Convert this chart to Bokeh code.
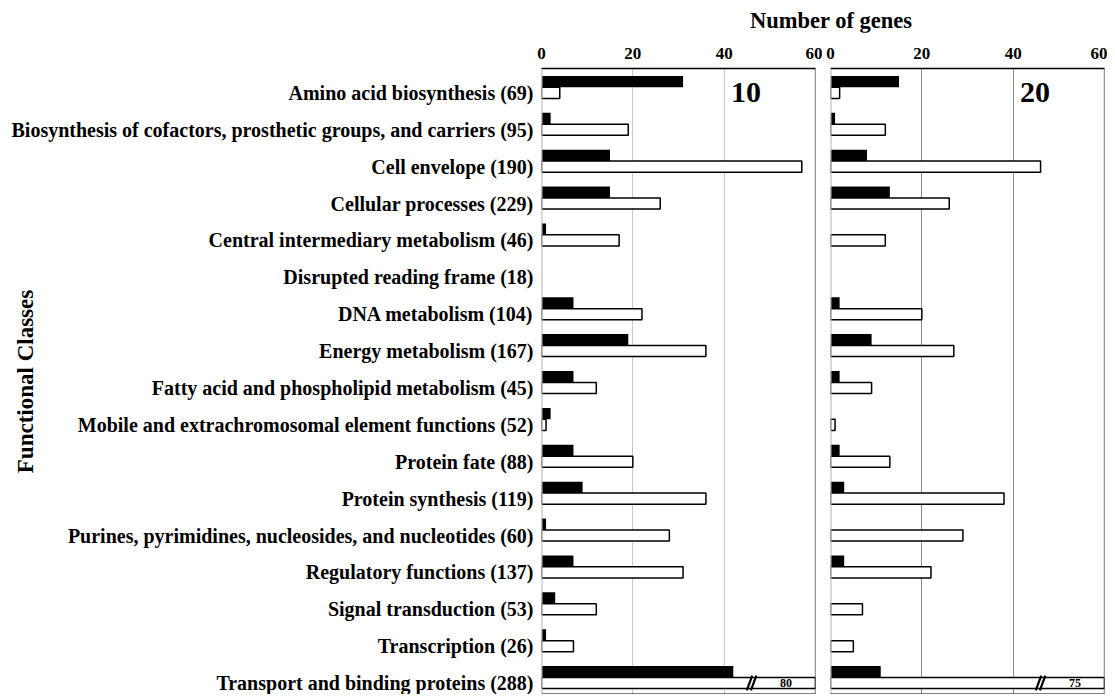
from bokeh.plotting import figure
from bokeh.models import (ColumnDataSource, Range1d, FixedTicker, Span, Label, Div,
                          CDSView, BooleanFilter)
from bokeh.transform import dodge
from bokeh.layouts import row, column
from bokeh.core.properties import value
from bokeh.embed import file_html
from bokeh.resources import INLINE

CLASSES = [
    "Amino acid biosynthesis (69)",
    "Biosynthesis of cofactors, prosthetic groups, and carriers (95)",
    "Cell envelope (190)",
    "Cellular processes (229)",
    "Central intermediary metabolism (46)",
    "Disrupted reading frame (18)",
    "DNA metabolism (104)",
    "Energy metabolism (167)",
    "Fatty acid and phospholipid metabolism (45)",
    "Mobile and extrachromosomal element functions (52)",
    "Protein fate (88)",
    "Protein synthesis (119)",
    "Purines, pyrimidines, nucleosides, and nucleotides (60)",
    "Regulatory functions (137)",
    "Signal transduction (53)",
    "Transcription (26)",
    "Transport and binding proteins (288)",
]
BLACK_10 = [31, 2, 15, 15, 1, 0, 7, 19, 7, 2, 7, 9, 1, 7, 3, 1, 42]
WHITE_10 = [4, 19, 57, 26, 17, 0, 22, 36, 12, 1, 20, 36, 28, 31, 12, 7, 80]
BLACK_20 = [15, 1, 8, 13, 0, 0, 2, 9, 2, 0, 2, 3, 0, 3, 0, 0, 11]
WHITE_20 = [2, 12, 46, 26, 12, 0, 20, 27, 9, 1, 13, 38, 29, 22, 7, 5, 75]
PANELS = ["10", "20"]
X_TICKS = [0, 20, 40, 60]
X_MAX = 60
TITLE = "Number of genes"
Y_TITLE = "Functional Classes"

FONT = "Liberation Serif"
N = len(CLASSES)
YS = list(range(N - 1, -1, -1))
Y_START, Y_END = -0.31, N - 1 + 0.66
BREAK_AT = 46.0
FIG_H = 662
FRAME_W = 274

yr = Range1d(Y_START, Y_END)


def make_panel(black, white, panel_label, left_border, right_border, grid_color, with_labels):
    kw = dict(frame_width=FRAME_W, height=FIG_H, x_range=Range1d(0, X_MAX), y_range=yr,
              x_axis_location="above", toolbar_location=None, output_backend="svg",
              min_border_left=left_border, min_border_right=right_border,
              min_border_top=36, min_border_bottom=0, outline_line_color=None)
    if not with_labels:
        kw["y_axis_location"] = None
    p = figure(**kw)

    src = ColumnDataSource(dict(y=YS, black=black, white=white))
    bview = CDSView(filter=BooleanFilter([v > 0 for v in black]))
    wview = CDSView(filter=BooleanFilter([v > 0 for v in white]))

    p.hbar(y=dodge("y", 0.305, range=yr), height=0.31, left=0, right="black",
           source=src, view=bview, fill_color="black", line_color=None)
    p.hbar(y="y", height=0.30, left=0, right="white", source=src, view=wview,
           fill_color="white", line_color="black", line_width=1.5)

    # broken-bar markers for values beyond the axis
    over = [i for i, v in enumerate(white) if v > X_MAX]
    if over:
        osrc = ColumnDataSource(dict(
            y=[YS[i] for i in over], txt=[str(white[i]) for i in over]))
        for dx in (-0.45, 0.45):
            p.segment(x0=BREAK_AT + dx - 0.6, x1=BREAK_AT + dx + 0.6,
                      y0=dodge("y", -0.2, range=yr), y1=dodge("y", 0.2, range=yr),
                      source=osrc, line_color="black", line_width=2.2)
        p.text(x=BREAK_AT + 6.2, y="y", text="txt", source=osrc,
               text_font=value(FONT), text_font_style="bold", text_font_size="12px",
               text_baseline="middle", text_align="left", text_color="black")

    p.add_layout(Label(x=41.5, y=N - 1 + 0.02, text=panel_label, text_font=FONT,
                       text_font_style="bold", text_font_size="30px",
                       text_baseline="alphabetic", text_align="left", text_color="black"))

    # frame edges
    p.add_layout(Span(location=0, dimension="height", line_color="#b4b4b4", line_width=2))
    p.add_layout(Span(location=X_MAX, dimension="height", line_color="#333333", line_width=1.3))
    p.add_layout(Span(location=Y_START, dimension="width", line_color="black", line_width=2))

    xa = p.xaxis[0]
    xa.ticker = FixedTicker(ticks=X_TICKS)
    xa.major_label_text_font = FONT
    xa.major_label_text_font_style = "bold"
    xa.major_label_text_font_size = "17px"
    xa.major_label_text_color = "black"
    xa.major_tick_out = 0
    xa.major_tick_in = 0
    xa.minor_tick_out = 0
    xa.minor_tick_in = 0
    xa.major_label_standoff = 10
    xa.axis_line_color = "black"
    xa.axis_line_width = 1.3

    p.xgrid.ticker = FixedTicker(ticks=[t for t in X_TICKS if 0 < t < X_MAX])
    p.xgrid.grid_line_color = grid_color
    p.xgrid.grid_line_width = 1
    p.ygrid.visible = False

    if with_labels:
        ya = p.yaxis[0]
        ya.ticker = FixedTicker(ticks=YS)
        ya.major_label_overrides = {y: c for y, c in zip(YS, CLASSES)}
        ya.major_label_text_font = FONT
        ya.major_label_text_font_style = "bold"
        ya.major_label_text_font_size = "20px"
        ya.major_label_text_color = "black"
        ya.major_tick_out = 0
        ya.major_tick_in = 0
        ya.minor_tick_out = 0
        ya.minor_tick_in = 0
        ya.major_label_standoff = 8
        ya.axis_line_color = None
        ya.axis_label = Y_TITLE
        ya.axis_label_text_font = FONT
        ya.axis_label_text_font_style = "bold"
        ya.axis_label_text_font_size = "23px"
        ya.axis_label_text_color = "black"
        ya.axis_label_standoff = -29
    return p


p1 = make_panel(BLACK_10, WHITE_10, PANELS[0], 541, 7, "#c8c8c8", True)
p2 = make_panel(BLACK_20, WHITE_20, PANELS[1], 8, 3, "#8c8c8c", False)

title = Div(text=(
    '<div style="width:1107px;height:22px;position:relative;">'
    '<div style="position:absolute;left:626px;top:6px;width:400px;text-align:center;'
    'font-family:\'Liberation Serif\';font-weight:bold;font-size:22.5px;line-height:20px;'
    f'color:black;white-space:nowrap;">{TITLE}</div></div>'), width=1107, height=22)

layout = column(title, row(p1, p2))

open("out.html", "w").write(file_html(layout, INLINE))
